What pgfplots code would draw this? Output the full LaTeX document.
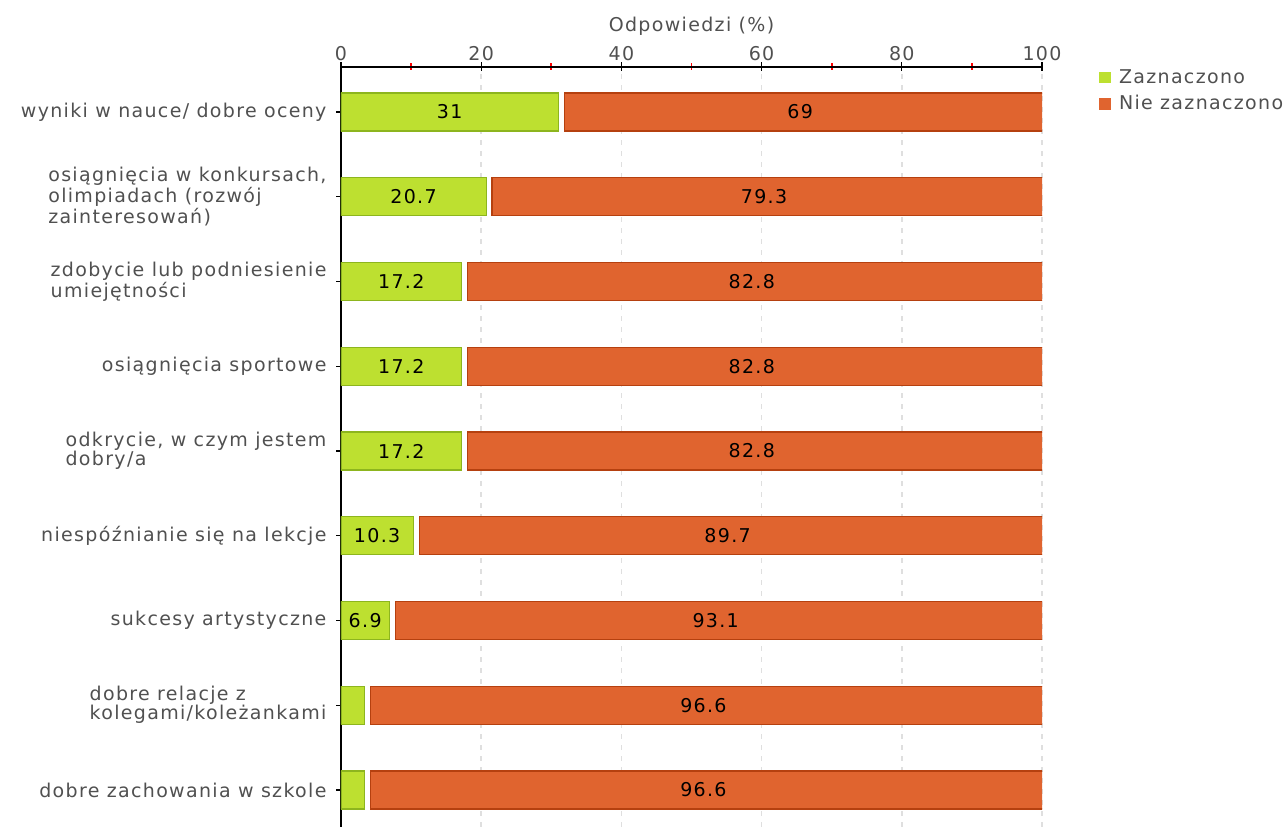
\documentclass[border=0pt]{standalone}
\usepackage{pgfplots}
\pgfplotsset{compat=1.18}
\usetikzlibrary{calc}
\usepackage{fontspec}
\setmainfont{DejaVu Sans}[LetterSpace=7]

\definecolor{zgreen}{HTML}{BDE030}
\definecolor{zgreenline}{HTML}{8DB51E}
\definecolor{zorange}{HTML}{E0642F}
\definecolor{zorangeline}{HTML}{B5400F}
\definecolor{labgray}{HTML}{505050}
\newcommand\lab{\fontsize{9.5}{9.5}\selectfont}

\pgfplotstableread{
y  yes   no
8  31    69
7  20.7  79.3
6  17.2  82.8
5  17.2  82.8
4  17.2  82.8
3  10.3  89.7
2  6.9   93.1
1  3.4   96.6
0  3.4   96.6
}\answers

\pgfplotsset{
    barframe/.style={
        xbar stacked,
        width=350.5pt, height=380pt, scale only axis,
        xmin=0, xmax=100,
        ymin=-0.437, ymax=8.531,
        bar width=19pt,
    },
}

\begin{document}
\begin{tikzpicture}
\begin{axis}[
    barframe,
    clip mode=individual,
    axis x line*=top, axis y line*=left,
    axis line style={-, black, line width=0.6pt},
    xtick={0,20,...,100},
    minor xtick={10,30,...,90},
    ytick={0,...,8},
    yticklabels={
        {dobre zachowania w szkole},
        {dobre relacje z\\kolegami/koleżankami},
        {sukcesy artystyczne},
        {niespóźnianie się na lekcje},
        {odkrycie, w czym jestem\\dobry/a},
        {osiągnięcia sportowe},
        {zdobycie lub podniesienie\\umiejętności},
        {osiągnięcia w konkursach,\\olimpiadach (rozwój\\zainteresowań)},
        {wyniki w nauce/ dobre oceny}},
    tick align=center,
    major tick length=4.5pt, minor tick length=3.5pt,
    major tick style={black, line width=0.6pt},
    minor x tick style={red, line width=0.8pt},
    xmajorgrids=true,
    major x grid style={gray!25, line width=0.8pt, dash pattern=on 2.5pt off 3pt},
    /pgf/number format/assume math mode=true,
    tick label style={font=\lab, text=labgray},
    xticklabel style={yshift=-2.5pt},
    yticklabel style={align=left, xshift=-1.5pt},
    xlabel={Odpowiedzi (\%)},
    xlabel style={font=\lab, text=labgray, at={(axis description cs:0.5,1)}, anchor=base, yshift=17.5pt},
    legend style={at={(axis description cs:1,1)}, anchor=north west,
        xshift=28.5pt, yshift=1pt, draw=none, fill=none, inner sep=0pt,
        font=\lab, text=labgray, row sep=0.5pt},
    legend cell align=left,
]
\addplot[fill=zgreen, draw=zgreenline, line width=0.6pt,
    point meta=explicit symbolic, nodes near coords,
    every node near coord/.append style={font=\lab, text=black},
    legend image code/.code={\fill[zgreen] (0pt,-2.5pt) rectangle (5pt,2.5pt);
        \path[draw=none, fill=none] (0pt,0pt) -- (7.5pt,0pt);}]
    coordinates {
    (31,8) [31]
    (20.7,7) [20.7]
    (17.2,6) [17.2]
    (17.2,5) [17.2]
    (17.2,4) [17.2]
    (10.3,3) [10.3]
    (6.9,2) [6.9]
    (3.4,1) [{}]
    (3.4,0) [{}]
};
\addlegendentry{Zaznaczono}
% white gap between the two segments
\addplot[draw=none, fill=none, forget plot]
    coordinates {(0.85,8) (0.85,7) (0.85,6) (0.85,5) (0.85,4) (0.85,3) (0.85,2) (0.85,1) (0.85,0)};
\addplot[fill=zorange, draw=zorangeline, line width=0.6pt,
    legend image code/.code={\fill[zorange] (0pt,-2.5pt) rectangle (5pt,2.5pt);
        \path[draw=none, fill=none] (0pt,0pt) -- (7.5pt,0pt);}]
    table[x=no, y=y] {\answers};
\addlegendentry{Nie zaznaczono}
\coordinate (bl) at (axis description cs:0,0);
\coordinate (tr) at (axis description cs:1,1);
\end{axis}
% same frame again, only for the labels of the orange segments
\begin{axis}[barframe, hide axis]
\addplot[draw=none, fill=none] table[x=yes, y=y] {\answers};
\addplot[draw=none, fill=none, point meta=explicit symbolic, nodes near coords,
    every node near coord/.append style={font=\lab, text=black}]
    table[x=no, y=y, meta=no] {\answers};
\end{axis}
\pgfresetboundingbox
\path[use as bounding box] ($(bl)+(-170.5pt,0)$) rectangle ($(tr)+(121.5pt,33.5pt)$);
\end{tikzpicture}
\end{document}
